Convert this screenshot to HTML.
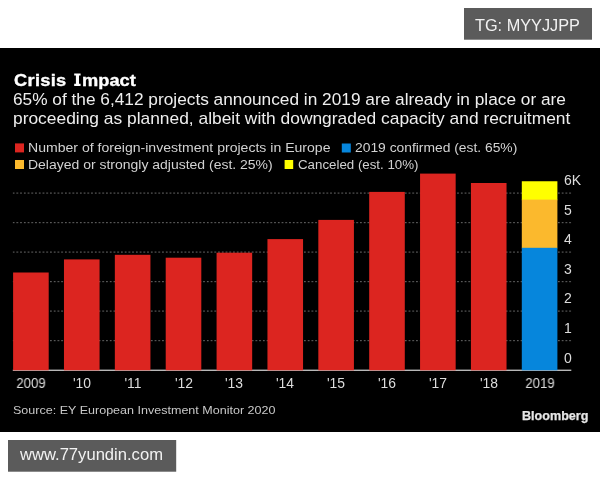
<!DOCTYPE html>
<html><head><meta charset="utf-8">
<style>
*{margin:0;padding:0;box-sizing:border-box}
html,body{width:600px;height:480px;background:#fff;overflow:hidden;position:relative;font-family:"Liberation Sans",sans-serif}
svg{position:absolute;left:0;top:0}
.a{position:absolute;white-space:pre;line-height:1;transform-origin:0 0;will-change:transform}
</style></head><body>
<svg width="600" height="480" viewBox="0 0 600 480">
<rect x="0" y="48" width="600" height="384" fill="#000"/>
<rect x="464" y="8" width="128" height="31.7" fill="#5b5b5b"/>
<rect x="8" y="440" width="168.2" height="31.7" fill="#5b5b5b"/>
<defs><pattern id="dp" x="12.7" y="0" width="3.735" height="10" patternUnits="userSpaceOnUse"><rect x="0" y="0" width="1.7" height="10" fill="#5c5c5c"/></pattern></defs>
<rect x="12.6" y="192.50" width="559.6" height="1.2" fill="url(#dp)"/>
<rect x="12.6" y="222.00" width="559.6" height="1.2" fill="url(#dp)"/>
<rect x="12.6" y="251.50" width="559.6" height="1.2" fill="url(#dp)"/>
<rect x="12.6" y="281.00" width="559.6" height="1.2" fill="url(#dp)"/>
<rect x="12.6" y="310.50" width="559.6" height="1.2" fill="url(#dp)"/>
<rect x="12.6" y="340.00" width="559.6" height="1.2" fill="url(#dp)"/>
<rect x="12.8" y="369.6" width="558.5" height="1.4" fill="#b8b8b8"/>
<rect x="13.10" y="272.50" width="35.6" height="97.80" fill="#dc2520"/>
<rect x="63.97" y="259.40" width="35.6" height="110.90" fill="#dc2520"/>
<rect x="114.84" y="254.80" width="35.6" height="115.50" fill="#dc2520"/>
<rect x="165.71" y="257.70" width="35.6" height="112.60" fill="#dc2520"/>
<rect x="216.58" y="252.70" width="35.6" height="117.60" fill="#dc2520"/>
<rect x="267.45" y="239.10" width="35.6" height="131.20" fill="#dc2520"/>
<rect x="318.32" y="219.90" width="35.6" height="150.40" fill="#dc2520"/>
<rect x="369.19" y="191.90" width="35.6" height="178.40" fill="#dc2520"/>
<rect x="420.06" y="173.60" width="35.6" height="196.70" fill="#dc2520"/>
<rect x="470.93" y="183.00" width="35.6" height="187.30" fill="#dc2520"/>
<rect x="521.80" y="181.25" width="35.6" height="19" fill="#ffff00"/>
<rect x="521.80" y="199.6" width="35.6" height="48.8" fill="#fbb92d"/>
<rect x="521.80" y="247.8" width="35.6" height="122.50" fill="#0686dc"/>
<rect x="15" y="143.4" width="9" height="9" fill="#dc2520"/>
<rect x="341.8" y="143.5" width="9" height="9" fill="#0686dc"/>
<rect x="15" y="160" width="9" height="9" fill="#fbb92d"/>
<rect x="284.6" y="160" width="8.6" height="9" fill="#ffff00"/>
<path d="M74.2 73.4H80.6V75.6H79V83.8H80.6V86H74.2V83.8H75.9V75.6H74.2Z" fill="#fff"/>
</svg>
<div class="a" style="left:475px;top:17.2px;font-size:16.3px;color:#f2f2f2;">TG: MYYJJPP</div>
<div class="a" style="left:14.0px;top:72.6px;font-size:16.8px;color:#fff;font-weight:700;letter-spacing:0.3px;transform:scaleX(1.085);-webkit-text-stroke:0.35px #fff">Crisis</div>
<div class="a" style="left:82px;top:72.6px;font-size:16.8px;color:#fff;font-weight:700;transform:scaleX(1.088);-webkit-text-stroke:0.35px #fff">mpact</div>
<div class="a" style="left:13px;top:90.7px;font-size:17.28px;color:#eeeeee;">65% of the 6,412 projects announced in 2019 are already in place or are</div>
<div class="a" style="left:13px;top:109.7px;font-size:17.39px;color:#eeeeee;">proceeding as planned, albeit with downgraded capacity and recruitment</div>
<div class="a" style="left:28px;top:142.4px;font-size:12.5px;color:#d2d2d2;transform:scaleX(1.125)">Number of foreign-investment projects in Europe</div>
<div class="a" style="left:355px;top:142.4px;font-size:12.5px;color:#d2d2d2;transform:scaleX(1.107)">2019 confirmed (est. 65%)</div>
<div class="a" style="left:28px;top:158.8px;font-size:12.5px;color:#d2d2d2;transform:scaleX(1.118)">Delayed or strongly adjusted (est. 25%)</div>
<div class="a" style="left:298px;top:158.8px;font-size:12.5px;color:#d2d2d2;transform:scaleX(1.064)">Canceled (est. 10%)</div>
<div class="a" style="left:564.1px;top:173.45px;font-size:14px;color:#dcdcdc;">6K</div>
<div class="a" style="left:564.1px;top:202.95px;font-size:14px;color:#dcdcdc;">5</div>
<div class="a" style="left:564.1px;top:232.45px;font-size:14px;color:#dcdcdc;">4</div>
<div class="a" style="left:564.1px;top:261.95px;font-size:14px;color:#dcdcdc;">3</div>
<div class="a" style="left:564.1px;top:291.45px;font-size:14px;color:#dcdcdc;">2</div>
<div class="a" style="left:564.1px;top:320.95px;font-size:14px;color:#dcdcdc;">1</div>
<div class="a" style="left:564.1px;top:350.55px;font-size:14px;color:#dcdcdc;">0</div>
<div class="a" style="left:5.90px;top:377.03px;width:50px;text-align:center;font-size:13.9px;color:#dcdcdc;transform-origin:25px 0;transform:scaleX(0.95)">2009</div>
<div class="a" style="left:56.77px;top:377.03px;width:50px;text-align:center;font-size:13.9px;color:#dcdcdc;transform-origin:25px 0;transform:scaleX(1.0)">'10</div>
<div class="a" style="left:107.64px;top:377.03px;width:50px;text-align:center;font-size:13.9px;color:#dcdcdc;transform-origin:25px 0;transform:scaleX(1.0)">'11</div>
<div class="a" style="left:158.51px;top:377.03px;width:50px;text-align:center;font-size:13.9px;color:#dcdcdc;transform-origin:25px 0;transform:scaleX(1.0)">'12</div>
<div class="a" style="left:209.38px;top:377.03px;width:50px;text-align:center;font-size:13.9px;color:#dcdcdc;transform-origin:25px 0;transform:scaleX(1.0)">'13</div>
<div class="a" style="left:260.25px;top:377.03px;width:50px;text-align:center;font-size:13.9px;color:#dcdcdc;transform-origin:25px 0;transform:scaleX(1.0)">'14</div>
<div class="a" style="left:311.12px;top:377.03px;width:50px;text-align:center;font-size:13.9px;color:#dcdcdc;transform-origin:25px 0;transform:scaleX(1.0)">'15</div>
<div class="a" style="left:361.99px;top:377.03px;width:50px;text-align:center;font-size:13.9px;color:#dcdcdc;transform-origin:25px 0;transform:scaleX(1.0)">'16</div>
<div class="a" style="left:412.86px;top:377.03px;width:50px;text-align:center;font-size:13.9px;color:#dcdcdc;transform-origin:25px 0;transform:scaleX(1.0)">'17</div>
<div class="a" style="left:463.73px;top:377.03px;width:50px;text-align:center;font-size:13.9px;color:#dcdcdc;transform-origin:25px 0;transform:scaleX(1.0)">'18</div>
<div class="a" style="left:514.60px;top:377.03px;width:50px;text-align:center;font-size:13.9px;color:#dcdcdc;transform-origin:25px 0;transform:scaleX(0.95)">2019</div>
<div class="a" style="left:13px;top:405px;font-size:11.5px;color:#c8c8c8;transform:scaleX(1.09)">Source: EY European Investment Monitor 2020</div>
<div class="a" style="left:521.8px;top:409.8px;font-size:12.6px;color:#e6e6e6;font-weight:700;-webkit-text-stroke:0.25px #e6e6e6">Bloomberg</div>
<div class="a" style="left:20px;top:446.6px;font-size:16.6px;color:#f2f2f2;">www.77yundin.com</div>
</body></html>
